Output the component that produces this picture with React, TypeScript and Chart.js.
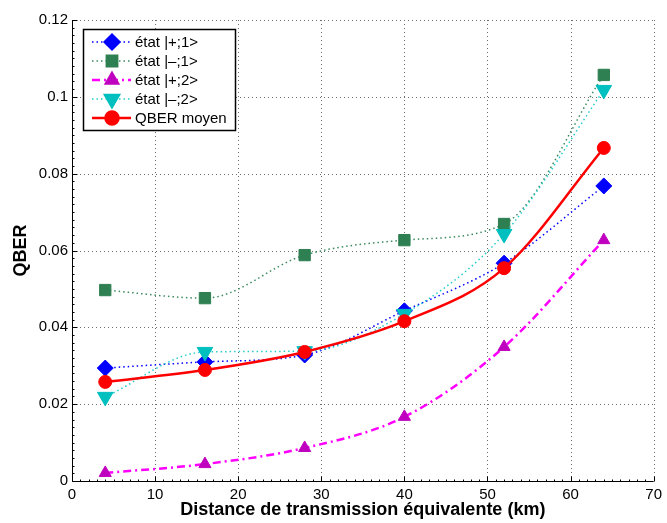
import React, { useEffect, useRef } from 'react';
import { Chart, registerables } from 'chart.js';
import { drawPoint } from 'chart.js/helpers';

Chart.register(...registerables);

// ---- Data ----
const distances = [4, 16, 28, 40, 52, 64];
const etatPlus1 = [0.0294, 0.031, 0.0328, 0.0443, 0.0567, 0.0768];
const etatMinus1 = [0.0497, 0.0476, 0.0588, 0.0627, 0.0669, 0.1057];
const etatPlus2 = [0.0021, 0.0044, 0.0086, 0.0167, 0.0349, 0.0627];
const etatMinus2 = [0.0219, 0.0336, 0.0338, 0.0435, 0.0643, 0.1018];
const qberMoyen = [0.0258, 0.0289, 0.0336, 0.0416, 0.0554, 0.0867];
const xTicks = [0, 10, 20, 30, 40, 50, 60, 70];
const yTicks = [0, 0.02, 0.04, 0.06, 0.08, 0.1, 0.12];
const seriesLabels = ['état |+;1>', 'état |–;1>', 'état |+;2>', 'état |–;2>', 'QBER moyen'];
const xTitle = 'Distance de transmission équivalente (km)';
const yTitle = 'QBER';

const FONT = "'Liberation Sans', Arial, Helvetica, sans-serif";

const toPoints = (ys: number[]) => distances.map((d, i) => ({ x: d, y: ys[i] }));

const matlabAxes = {
  id: 'matlabAxes',
  beforeDatasetsDraw(chart: any) {
    const { ctx, chartArea } = chart;
    const { left, right, top, bottom } = chartArea;
    const xs = chart.scales.x;
    const ys = chart.scales.y;
    ctx.save();
    // dotted grid
    ctx.strokeStyle = '#6e6e6e';
    ctx.lineWidth = 1;
    ctx.setLineDash([1, 3]);
    xTicks.forEach((t) => {
      if (t === xTicks[0]) return;
      const px = Math.round(xs.getPixelForValue(t)) + 0.5;
      ctx.beginPath();
      ctx.moveTo(px, bottom);
      ctx.lineTo(px, top);
      ctx.stroke();
    });
    yTicks.forEach((t) => {
      if (t === yTicks[0]) return;
      const py = Math.round(ys.getPixelForValue(t)) + 0.5;
      ctx.beginPath();
      ctx.moveTo(left, py);
      ctx.lineTo(right, py);
      ctx.stroke();
    });
    ctx.setLineDash([]);
    // axes lines
    ctx.strokeStyle = '#000';
    ctx.lineWidth = 1;
    const lx = Math.round(left) + 0.5;
    const by = Math.round(bottom) + 0.5;
    ctx.beginPath();
    ctx.moveTo(lx, top);
    ctx.lineTo(lx, by);
    ctx.lineTo(right, by);
    ctx.stroke();
    // major & minor ticks (inward)
    ctx.beginPath();
    for (let i = 0; i < xTicks.length - 1; i++) {
      const a = xTicks[i];
      const b = xTicks[i + 1];
      for (let k = 0; k < 10; k++) {
        const v = a + ((b - a) * k) / 10;
        const px = Math.round(xs.getPixelForValue(v)) + 0.5;
        const len = k === 0 ? 5 : 2;
        ctx.moveTo(px, by);
        ctx.lineTo(px, by - len);
      }
    }
    const pxEnd = Math.round(xs.getPixelForValue(xTicks[xTicks.length - 1])) + 0.5;
    ctx.moveTo(pxEnd, by);
    ctx.lineTo(pxEnd, by - 5);
    for (let i = 0; i < yTicks.length - 1; i++) {
      const a = yTicks[i];
      const b = yTicks[i + 1];
      for (let k = 0; k < 10; k++) {
        const v = a + ((b - a) * k) / 10;
        const py = Math.round(ys.getPixelForValue(v)) + 0.5;
        const len = k === 0 ? 5 : 2;
        ctx.moveTo(lx, py);
        ctx.lineTo(lx + len, py);
      }
    }
    const pyEnd = Math.round(ys.getPixelForValue(yTicks[yTicks.length - 1])) + 0.5;
    ctx.moveTo(lx, pyEnd);
    ctx.lineTo(lx + 5, pyEnd);
    ctx.stroke();
    ctx.restore();
  },
};

const insideLegend = {
  id: 'insideLegend',
  afterDraw(chart: any) {
    const { ctx } = chart;
    const bx = 83.5;
    const by = 29.5;
    const bw = 152;
    const bh = 101;
    ctx.save();
    ctx.fillStyle = '#fff';
    ctx.fillRect(bx, by, bw, bh);
    ctx.strokeStyle = '#000';
    ctx.lineWidth = 1.5;
    ctx.strokeRect(bx, by, bw, bh);
    const rowY = [42, 61, 80, 99, 118];
    chart.data.datasets.forEach((ds: any, i: number) => {
      const y = rowY[i];
      ctx.save();
      ctx.strokeStyle = ds.borderColor;
      ctx.lineWidth = ds.borderWidth;
      ctx.setLineDash(ds.borderDash || []);
      ctx.beginPath();
      ctx.moveTo(92, y);
      ctx.lineTo(131, y);
      ctx.stroke();
      ctx.setLineDash([]);
      ctx.fillStyle = ds.pointBackgroundColor;
      ctx.strokeStyle = ds.pointBorderColor;
      drawPoint(
        ctx,
        {
          pointStyle: ds.pointStyle,
          rotation: ds.pointRotation || 0,
          radius: ds.pointRadius,
          borderWidth: ds.pointBorderWidth,
        } as any,
        112,
        y,
      );
      ctx.restore();
      ctx.fillStyle = '#000';
      ctx.font = `15px ${FONT}`;
      ctx.textBaseline = 'middle';
      ctx.textAlign = 'left';
      ctx.fillText(seriesLabels[i], 135, y + 1);
    });
    ctx.restore();
  },
};

export default function App() {
  const ref = useRef<HTMLCanvasElement | null>(null);

  useEffect(() => {
    if (!ref.current) return;
    const chart = new Chart(ref.current, {
      type: 'line',
      data: {
        datasets: [
          {
            label: seriesLabels[0],
            data: toPoints(etatPlus1),
            borderColor: '#0000ff',
            borderWidth: 1.5,
            borderDash: [1.5, 3],
            pointStyle: 'rectRot',
            pointRadius: 8,
            pointBackgroundColor: '#0000ff',
            pointBorderColor: '#0000ff',
            pointBorderWidth: 1,
            cubicInterpolationMode: 'monotone',
            order: 5,
          },
          {
            label: seriesLabels[1],
            data: toPoints(etatMinus1),
            borderColor: '#3a8a5e',
            borderWidth: 1.5,
            borderDash: [1.5, 3],
            pointStyle: 'rect',
            pointRadius: 8,
            pointBackgroundColor: '#2e7f52',
            pointBorderColor: '#2e7f52',
            pointBorderWidth: 1,
            cubicInterpolationMode: 'monotone',
            order: 4,
          },
          {
            label: seriesLabels[2],
            data: toPoints(etatPlus2),
            borderColor: '#ff00ff',
            borderWidth: 2.5,
            borderDash: [8, 4, 2, 4],
            pointStyle: 'triangle',
            pointRadius: 7,
            pointBackgroundColor: '#bf00bf',
            pointBorderColor: '#bf00bf',
            pointBorderWidth: 1,
            cubicInterpolationMode: 'monotone',
            order: 3,
          },
          {
            label: seriesLabels[3],
            data: toPoints(etatMinus2),
            borderColor: '#22cccc',
            borderWidth: 1.5,
            borderDash: [1.5, 3],
            pointStyle: 'triangle',
            pointRotation: 180,
            pointRadius: 9,
            pointBackgroundColor: '#00bfbf',
            pointBorderColor: '#00bfbf',
            pointBorderWidth: 1,
            cubicInterpolationMode: 'monotone',
            order: 2,
          },
          {
            label: seriesLabels[4],
            data: toPoints(qberMoyen),
            borderColor: '#ff0000',
            borderWidth: 2.5,
            pointStyle: 'circle',
            pointRadius: 6.5,
            pointBackgroundColor: '#ff0000',
            pointBorderColor: '#ff0000',
            pointBorderWidth: 1,
            cubicInterpolationMode: 'monotone',
            order: 1,
          },
        ] as any,
      },
      options: {
        animation: false,
        responsive: false,
        maintainAspectRatio: false,
        layout: { padding: { top: 20, right: 10, left: 0, bottom: 0 } },
        plugins: {
          legend: { display: false },
          tooltip: { enabled: false },
        },
        scales: {
          x: {
            type: 'linear',
            min: 0,
            max: 70,
            grid: { display: false, drawTicks: false },
            border: { display: false },
            afterBuildTicks: (s: any) => {
              s.ticks = xTicks.map((v) => ({ value: v }));
            },
            afterFit: (s: any) => {
              s.height = 42;
            },
            ticks: {
              color: '#000',
              font: { family: FONT, size: 15 },
              padding: 5,
              maxRotation: 0,
              autoSkip: false,
              callback: (v: any) => String(v),
            },
            title: {
              display: true,
              text: xTitle,
              color: '#000',
              font: { family: FONT, size: 18, weight: 'bold' },
              padding: { top: 0, bottom: 2 },
            },
          },
          y: {
            type: 'linear',
            min: 0,
            max: 0.12,
            grid: { display: false, drawTicks: false },
            border: { display: false },
            afterBuildTicks: (s: any) => {
              s.ticks = yTicks.map((v) => ({ value: v }));
            },
            afterFit: (s: any) => {
              s.width = 72;
            },
            ticks: {
              color: '#000',
              font: { family: FONT, size: 15 },
              padding: 4,
              autoSkip: false,
              callback: (v: any) => String(parseFloat(Number(v).toFixed(3))),
            },
            title: {
              display: true,
              text: yTitle,
              color: '#000',
              font: { family: FONT, size: 18, weight: 'bold' },
              padding: { top: 10, bottom: 0 },
            },
          },
        },
      },
      plugins: [matlabAxes, insideLegend],
    });
    return () => chart.destroy();
  }, []);

  return (
    <div style={{ position: 'fixed', left: 0, top: 0, width: 667, height: 523, background: '#fff' }}>
      <canvas ref={ref} width={667} height={523} style={{ display: 'block', width: 667, height: 523 }} />
    </div>
  );
}
